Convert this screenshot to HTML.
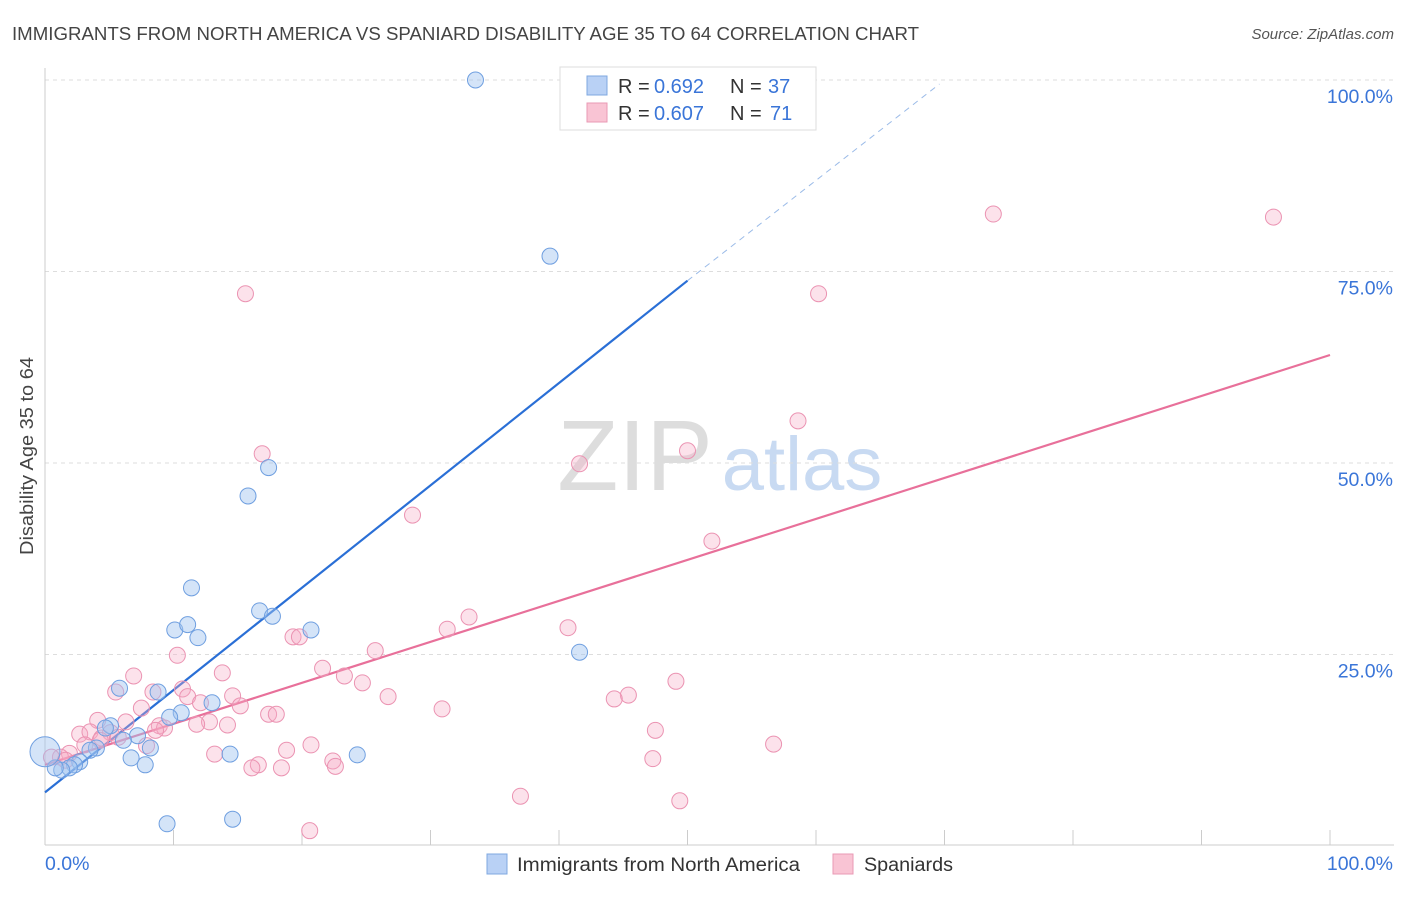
<!DOCTYPE html>
<html><head><meta charset="utf-8"><style>
body{margin:0;background:#fff;font-family:"Liberation Sans",sans-serif}
svg text{font-family:"Liberation Sans",sans-serif}
</style></head><body>
<svg id="chart" width="1406" height="892" xmlns="http://www.w3.org/2000/svg">
<text x="12" y="40" font-size="18" fill="#444" textLength="907" lengthAdjust="spacingAndGlyphs">IMMIGRANTS FROM NORTH AMERICA VS SPANIARD DISABILITY AGE 35 TO 64 CORRELATION CHART</text>
<text x="1394" y="39" font-size="15" fill="#555" text-anchor="end" font-style="italic">Source: ZipAtlas.com</text>
<text transform="translate(33,456) rotate(-90)" font-size="18" fill="#444" text-anchor="middle" textLength="198" lengthAdjust="spacingAndGlyphs">Disability Age 35 to 64</text>
<g>
<text x="635" y="490" font-size="100" fill="#ddd" text-anchor="middle" font-family="Liberation Serif,serif">ZIP</text>
<text x="802" y="490" font-size="76" fill="#c8daf2" text-anchor="middle">atlas</text>
</g>
<g id="grid"></g><g id="axes"></g><g id="lines"></g><g id="pts"></g>
<g>
<rect x="560" y="67" width="256" height="63" fill="#fff" stroke="#ddd"/>
<rect x="587" y="76" width="20" height="19" fill="#b9d1f5" stroke="#7fa8e0"/>
<text x="618" y="93" font-size="20" fill="#333">R =</text>
<text x="654" y="93" font-size="20" fill="#3a75d8">0.692</text>
<text x="730" y="93" font-size="20" fill="#333">N =</text>
<text x="768" y="93" font-size="20" fill="#3a75d8">37</text>
<rect x="587" y="103" width="20" height="19" fill="#f9c4d4" stroke="#e99ab4"/>
<text x="618" y="120" font-size="20" fill="#333">R =</text>
<text x="654" y="120" font-size="20" fill="#3a75d8">0.607</text>
<text x="730" y="120" font-size="20" fill="#333">N =</text>
<text x="770" y="120" font-size="20" fill="#3a75d8">71</text>
</g>
<g>
<rect x="487" y="854" width="20" height="20" fill="#b9d1f5" stroke="#7fa8e0"/>
<text x="517" y="871" font-size="19" fill="#333" textLength="283" lengthAdjust="spacingAndGlyphs">Immigrants from North America</text>
<rect x="833" y="854" width="20" height="20" fill="#f9c4d4" stroke="#e99ab4"/>
<text x="864" y="871" font-size="19" fill="#333" textLength="89" lengthAdjust="spacingAndGlyphs">Spaniards</text>
</g>
</svg>
<script>
const blueX=[33.5,39.3,17.4,15.8,11.4,16.7,17.7,10.1,11.1,11.9,20.7,41.6,5.8,8.8,13.0,10.6,9.7,5.1,4.7,7.2,6.1,8.2,4.0,3.5,6.7,7.8,2.7,2.3,1.9,1.3,0.8,24.3,14.4,9.5,14.6,0];
const blueY=[100,77.0,49.4,45.7,33.7,30.7,30.0,28.2,28.9,27.2,28.2,25.3,20.6,20.1,18.7,17.4,16.8,15.7,15.4,14.4,13.8,12.8,12.8,12.5,11.5,10.6,11.0,10.6,10.2,9.9,10.2,11.9,12.0,2.9,3.5,12.3];
const pinkX=[73.8,95.6,15.6,60.2,58.6,16.9,41.6,50.0,28.6,51.9,33.0,31.3,40.7,19.3,19.8,10.3,25.7,21.6,6.9,13.8,23.3,24.7,49.1,45.4,44.3,26.7,5.5,8.4,10.7,11.1,14.6,12.1,15.2,7.5,12.8,17.4,18.0,30.9,4.1,6.3,14.2,11.8,8.9,9.3,8.6,47.5,5.1,2.7,3.5,4.4,5.7,7.9,20.7,18.8,13.2,56.7,47.3,16.6,16.1,18.4,22.4,22.6,1.9,1.2,0.5,37.0,49.4,20.6,4.3,3.1,1.6];
const pinkY=[82.5,82.1,72.1,72.1,55.5,51.2,49.9,51.6,43.2,39.8,29.9,28.3,28.5,27.3,27.3,24.9,25.5,23.2,22.2,22.6,22.2,21.3,21.5,19.7,19.2,19.5,20.1,20.1,20.5,19.5,19.6,18.7,18.3,18.0,16.2,17.2,17.2,17.9,16.4,16.2,15.8,15.9,15.7,15.4,15.1,15.1,14.8,14.6,14.9,14.1,14.2,13.1,13.2,12.5,12.0,13.3,11.4,10.6,10.2,10.2,11.1,10.4,12.1,11.6,11.6,6.5,5.9,2.0,13.8,13.2,11.2];
const yTicks=[25,50,75,100];
const yTickLabels=["25.0%","50.0%","75.0%","100.0%"];
const blueLine=[7.0,73.8];  // y at x=0, x=50
const pinkLine=[10.6,64.1]; // y at x=0, x=100
const NS="http://www.w3.org/2000/svg";
const sx=v=>45+v*12.85, sy=v=>846-v*7.66;
function mk(p,t,a){const e=document.createElementNS(NS,t);for(const k in a)e.setAttribute(k,a[k]);document.getElementById(p).appendChild(e);return e;}
yTicks.forEach((t,i)=>{
 const g=mk('grid','line',{x1:45,x2:1394,y1:sy(t),y2:sy(t),stroke:'#ddd','stroke-dasharray':'4,4'});
 
 
 const l=mk('axes','text',{x:1393,y:sy(t)+23,'font-size':19.5,fill:'#3a75d8','text-anchor':'end'});l.textContent=yTickLabels[i];
 
 
});
const ax=mk('axes','line',{x1:45,x2:1394,y1:845,y2:845,stroke:'#ccc'});


const ay=mk('axes','line',{x1:45,x2:45,y1:68,y2:845,stroke:'#ccc'});


for(let i=0;i<=10;i++){const t=mk('axes','line',{x1:sx(i*10),x2:sx(i*10),y1:830,y2:845,stroke:'#ccc'});
 
 }
const x0=mk('axes','text',{x:45,y:870,'font-size':19.5,fill:'#3a75d8'});x0.textContent='0.0%';


const x1=mk('axes','text',{x:1393,y:870,'font-size':19.5,fill:'#3a75d8','text-anchor':'end'});x1.textContent='100.0%';


const slopeB=(blueLine[1]-blueLine[0])/50;
const bl=mk('lines','line',{x1:sx(0),y1:sy(blueLine[0]),x2:sx(50),y2:sy(blueLine[1]),stroke:'#2a6fd6','stroke-width':2.2});


const xe=(100-blueLine[0])/slopeB;
const bd=mk('lines','line',{x1:sx(50),y1:sy(blueLine[1]),x2:sx(xe),y2:sy(100)+4,stroke:'#9bbbe8','stroke-width':1,'stroke-dasharray':'6,5'});


const pl=mk('lines','line',{x1:sx(0),y1:sy(pinkLine[0]),x2:sx(100),y2:sy(pinkLine[1]),stroke:'#e8709a','stroke-width':2.2});


pinkX.forEach((x,i)=>{const c=mk('pts','circle',{cx:sx(x),cy:sy(pinkY[i]),r:8,fill:'rgba(246,172,198,0.35)',stroke:'#eb93b2','stroke-width':1});
 
 });
blueX.forEach((x,i)=>{const last=i===blueX.length-1;const c=mk('pts','circle',{cx:sx(x),cy:sy(blueY[i]),r:last?15:8,fill:'rgba(160,195,240,0.45)',stroke:'#6f9fe0','stroke-width':1});
 
 });
</script>
</body></html>
